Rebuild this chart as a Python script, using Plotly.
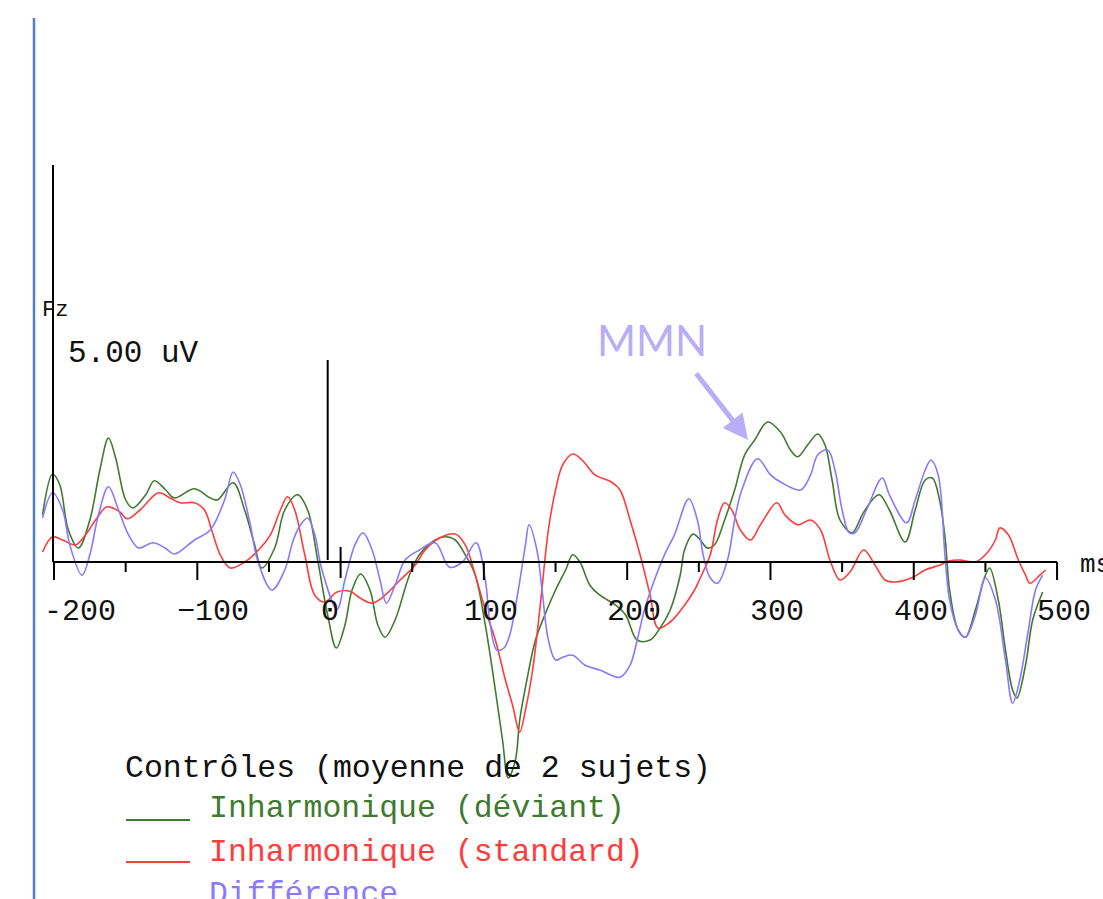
import plotly.graph_objects as go

# ---- Fz, controls (grand average of 2 subjects), inharmonic condition ----
# time in ms, amplitude in µV

deviant_t = [-208, -201, -196, -190, -183, -175, -168, -162, -157, -150, -145, -136, -130, -122,
             -116, -102, -91, -86, -75, -67, -60, -55, -46, -39, -30, -23, -16, -9, -3, 3, 8, 14,
             20.5, 26, 31, 38, 48, 55, 66, 73, 80, 87, 94, 101, 108, 113, 117, 122, 125, 130, 136,
             143, 150, 157, 162, 167, 174, 181, 192, 199, 207, 216, 223, 230, 237, 240, 246, 251,
             256, 261, 268, 275, 282, 289, 298, 307, 314, 319, 326, 333, 338, 343, 348.5, 357, 364,
             371, 376, 383, 394, 401, 408, 413, 418, 422, 425, 431, 436, 443, 450, 453, 459, 464,
             469, 472, 478, 483, 490]
deviant_uv = [1.18, 2.20, 1.93, 0.80, 0.35, 1.05, 2.30, 3.10, 2.60, 1.55, 1.35, 1.68, 2.03, 1.80,
              1.60, 1.83, 1.60, 1.55, 1.98, 1.30, 0.43, -0.15, 0.35, 1.30, 1.68, 1.30, 0.05, -1.33,
              -2.15, -1.58, -0.70, -0.30, -0.70, -1.58, -1.88, -1.45, -0.33, 0.18, 0.55, 0.63, 0.55,
              0.18, -0.33, -1.58, -3.20, -4.45, -5.40, -4.95, -3.95, -2.95, -1.95, -1.28, -0.70,
              -0.20, 0.18, 0.00, -0.58, -0.83, -1.08, -1.33, -1.95, -1.95, -1.65, -1.20, -0.33, 0.30,
              0.70, 0.55, 0.35, 0.43, 1.05, 1.80, 2.68, 3.05, 3.50, 3.25, 2.80, 2.63, 2.93, 3.20,
              2.93, 2.05, 1.05, 0.73, 1.18, 1.55, 1.68, 1.30, 0.50, 1.30, 2.05, 2.10, 1.55, 0.55,
              -0.70, -1.70, -1.88, -1.20, -0.33, -0.15, -0.95, -2.20, -3.20, -3.40, -2.58, -1.45,
              -0.75]

standard_t = [-208, -201, -194, -185, -178, -171, -163, -154, -149, -140, -127, -119, -112, -102,
              -95, -90, -84, -77, -67, -56, -49, -42, -37, -32, -25, -18, -11, -2.5, 6.5, 13.5, 22,
              31, 41.5, 52, 59, 69, 80, 87, 94, 101, 108, 115, 120, 125, 129, 134, 139, 145, 150,
              155, 162, 168.5, 177.5, 189, 195, 202, 209, 216, 221.5, 230, 240, 247, 251, 258, 263,
              268, 273, 279, 286, 293, 304.5, 310, 319, 328, 335, 341.5, 348.5, 355.5, 365, 373,
              380, 387, 399.5, 408, 418, 425, 432, 443, 450, 457, 460, 466, 473, 478, 481, 488, 492]
standard_uv = [0.25, 0.63, 0.55, 0.43, 0.68, 1.05, 1.38, 1.25, 1.08, 1.30, 1.73, 1.60, 1.48, 1.48,
               1.30, 0.80, 0.18, -0.15, 0.00, 0.35, 0.68, 1.30, 1.63, 1.30, 0.18, -0.83, -1.00,
               -0.75, -0.73, -0.90, -1.03, -0.83, -0.45, -0.08, 0.30, 0.60, 0.70, 0.43, -0.33,
               -1.20, -1.95, -2.95, -3.58, -4.25, -3.70, -2.70, -1.20, 0.80, 1.80, 2.43, 2.70, 2.55,
               2.18, 2.00, 1.80, 1.05, 0.18, -0.83, -1.65, -1.50, -1.08, -0.70, -0.40, 0.18, 1.05,
               1.48, 1.30, 0.80, 0.55, 0.93, 1.48, 1.18, 0.93, 1.05, 0.80, 0.05, -0.45, -0.25, 0.30,
               -0.08, -0.45, -0.50, -0.38, -0.20, -0.08, 0.03, 0.05, 0.00, 0.18, 0.55, 0.85, 0.68,
               0.05, -0.33, -0.53, -0.33, -0.20]

difference_t = [-208, -201, -194, -189, -180.5, -175, -169, -162, -155, -148, -141, -131, -122.5,
                -116, -102, -91, -81, -75, -70, -63, -58, -48, -39, -33, -28, -23, -18, -13, -2.5, 3,
                10, 15.6, 22, 27.5, 32, 38, 45, 55, 66, 76, 85, 94.5, 101, 104, 109, 114, 118, 124,
                129, 131.5, 137, 140.6, 145, 150, 155, 162, 170.6, 181, 195, 202, 207, 212, 219, 226,
                233, 243, 249, 253, 258, 263, 270, 275, 280, 291, 300, 308, 321, 328, 333, 340, 345,
                350, 355, 359, 367, 378, 383, 395, 401, 408, 412, 417, 422, 425, 431, 436, 443, 450,
                457, 464, 469, 474, 480, 485, 490]
difference_uv = [1.10, 1.73, 1.30, 0.43, -0.33, 0.18, 1.18, 1.88, 1.30, 0.68, 0.35, 0.48, 0.35,
                 0.20, 0.55, 0.80, 1.55, 2.25, 1.93, 0.93, 0.05, -0.70, -0.20, 0.55, 0.93, 1.10,
                 0.68, -0.20, -1.18, -0.45, 0.43, 0.73, 0.30, -0.45, -1.03, -0.58, 0.05, 0.30, 0.48,
                 -0.13, 0.00, 0.48, -0.45, -1.45, -2.20, -2.15, -1.83, -0.70, 0.43, 0.93, 0.30,
                 -0.70, -1.95, -2.45, -2.38, -2.33, -2.58, -2.70, -2.88, -2.58, -1.95, -1.20, -0.45,
                 0.18, 0.68, 1.58, 1.05, 0.18, -0.40, -0.53, 0.05, 1.05, 1.80, 2.58, 2.18, 1.98,
                 1.80, 2.18, 2.68, 2.80, 2.30, 1.30, 0.73, 0.73, 1.30, 2.10, 1.68, 0.98, 1.55, 2.30,
                 2.55, 2.18, 0.05, -0.95, -1.70, -1.88, -1.33, -0.40, -0.95, -2.45, -3.53, -2.95,
                 -1.70, -0.70, -0.33]

tick_values = [-200, -150, -100, -50, 0, 50, 100, 150, 200, 250, 300, 350, 400, 450, 500]
tick_labels = {-200: "-200", -100: "\u2212100", 0: "0", 100: "100", 200: "200",
               300: "300", 400: "400", 500: "500"}

calib_uv = 5.0          # calibration bar height
calib_t = -9            # calibration bar position (ms)

GREEN = "#3e7b2e"
RED = "#ff3c3c"
PURPLE = "#8a78ff"
LAVENDER = "#b8adf6"
MONO = "Liberation Mono"

# pixel scale of the trace panel
X0_PX, PX_PER_MS = 340.6, 1.4329
Y0_PX, PX_PER_UV = 562.0, 40.0
W, H = 1103, 899

fig = go.Figure()
for t, v, c in [(deviant_t, deviant_uv, GREEN),
                (standard_t, standard_uv, RED),
                (difference_t, difference_uv, PURPLE)]:
    fig.add_trace(go.Scatter(x=t, y=v, mode="lines",
                             line=dict(color=c, width=1.6, shape="spline", smoothing=1.0),
                             hoverinfo="skip", showlegend=False))

shapes = []
black = dict(color="black", width=2)
# time axis and amplitude axis
shapes.append(dict(type="line", x0=-200, x1=500, y0=0, y1=0, line=black, layer="above"))
shapes.append(dict(type="line", x0=-200.7, x1=-200.7, y0=0, y1=(Y0_PX - 165) / PX_PER_UV,
                   line=black, layer="above"))
for tv in tick_values:
    if tv == 0:
        y0, y1 = 15 / PX_PER_UV, -16 / PX_PER_UV
    elif tv % 100 == 0:
        y0, y1 = 0, -18 / PX_PER_UV
    else:
        y0, y1 = 0, -10 / PX_PER_UV
    shapes.append(dict(type="line", x0=tv, x1=tv, y0=y0, y1=y1, line=black, layer="above"))
# calibration bar
shapes.append(dict(type="line", x0=calib_t, x1=calib_t, y0=0.05, y1=calib_uv + 0.05,
                   line=black, layer="above"))
# page border on the left
shapes.append(dict(type="line", xref="paper", yref="paper", x0=34 / W, x1=34 / W,
                   y0=0, y1=1 - 18 / H, line=dict(color="#4f81bd", width=2.5)))

ann = []
for tv, lab in tick_labels.items():
    ann.append(dict(x=tv, y=-50 / PX_PER_UV, text=lab, showarrow=False, xanchor="left",
                    yanchor="middle", xshift=(-12 if tv == -200 else -22),
                    font=dict(family=MONO, size=30, color="#111111")))
ann.append(dict(xref="paper", yref="paper", x=1078 / W, y=1 - 565 / H, text="ms",
                showarrow=False, xanchor="left", yanchor="middle",
                font=dict(family=MONO, size=26, color="#111111")))
ann.append(dict(xref="paper", yref="paper", x=40 / W, y=1 - 310 / H, text="Fz",
                showarrow=False, xanchor="left", yanchor="middle",
                font=dict(family=MONO, size=22, color="#111111")))
ann.append(dict(xref="paper", yref="paper", x=66 / W, y=1 - 353 / H, text="5.00 uV",
                showarrow=False, xanchor="left", yanchor="middle",
                font=dict(family=MONO, size=31, color="#111111")))

# legend block
ann.append(dict(xref="paper", yref="paper", x=123 / W, y=1 - 768 / H,
                text="Contrôles (moyenne de 2 sujets)", showarrow=False, xanchor="left",
                yanchor="middle", font=dict(family=MONO, size=31.5, color="#111111")))
for ytxt, yline, label, col in [(808, 820, "Inharmonique (déviant)", GREEN),
                                (852, 862, "Inharmonique (standard)", RED),
                                (894, 906, "Différence", PURPLE)]:
    ann.append(dict(xref="paper", yref="paper", x=207 / W, y=1 - ytxt / H, text=label,
                    showarrow=False, xanchor="left", yanchor="middle",
                    font=dict(family=MONO, size=31.5, color=col)))
    shapes.append(dict(type="line", xref="paper", yref="paper", x0=126 / W, x1=190 / W,
                       y0=1 - yline / H, y1=1 - yline / H, line=dict(color=col, width=2)))

# MMN label with arrow
ann.append(dict(xref="paper", yref="paper", x=652 / W, y=1 - 340 / H, text="MMN",
                showarrow=False, xanchor="center", yanchor="middle",
                font=dict(family="Lato", size=42, color=LAVENDER)))
ann.append(dict(x=(748 - X0_PX) / PX_PER_MS, y=(Y0_PX - 440) / PX_PER_UV, text="",
                showarrow=True, arrowhead=2, arrowsize=1.0, arrowwidth=5,
                arrowcolor=LAVENDER, ax=-53, ay=-68, axref="pixel", ayref="pixel"))

fig.update_layout(
    shapes=shapes,
    annotations=ann,
    width=W, height=H,
    margin=dict(l=0, r=0, t=0, b=0),
    paper_bgcolor="white", plot_bgcolor="white",
    xaxis=dict(range=[-X0_PX / PX_PER_MS, (W - X0_PX) / PX_PER_MS], visible=False,
               fixedrange=True),
    yaxis=dict(range=[(Y0_PX - H) / PX_PER_UV, Y0_PX / PX_PER_UV], visible=False,
               fixedrange=True),
    showlegend=False,
)

fig.write_html("out.html")
